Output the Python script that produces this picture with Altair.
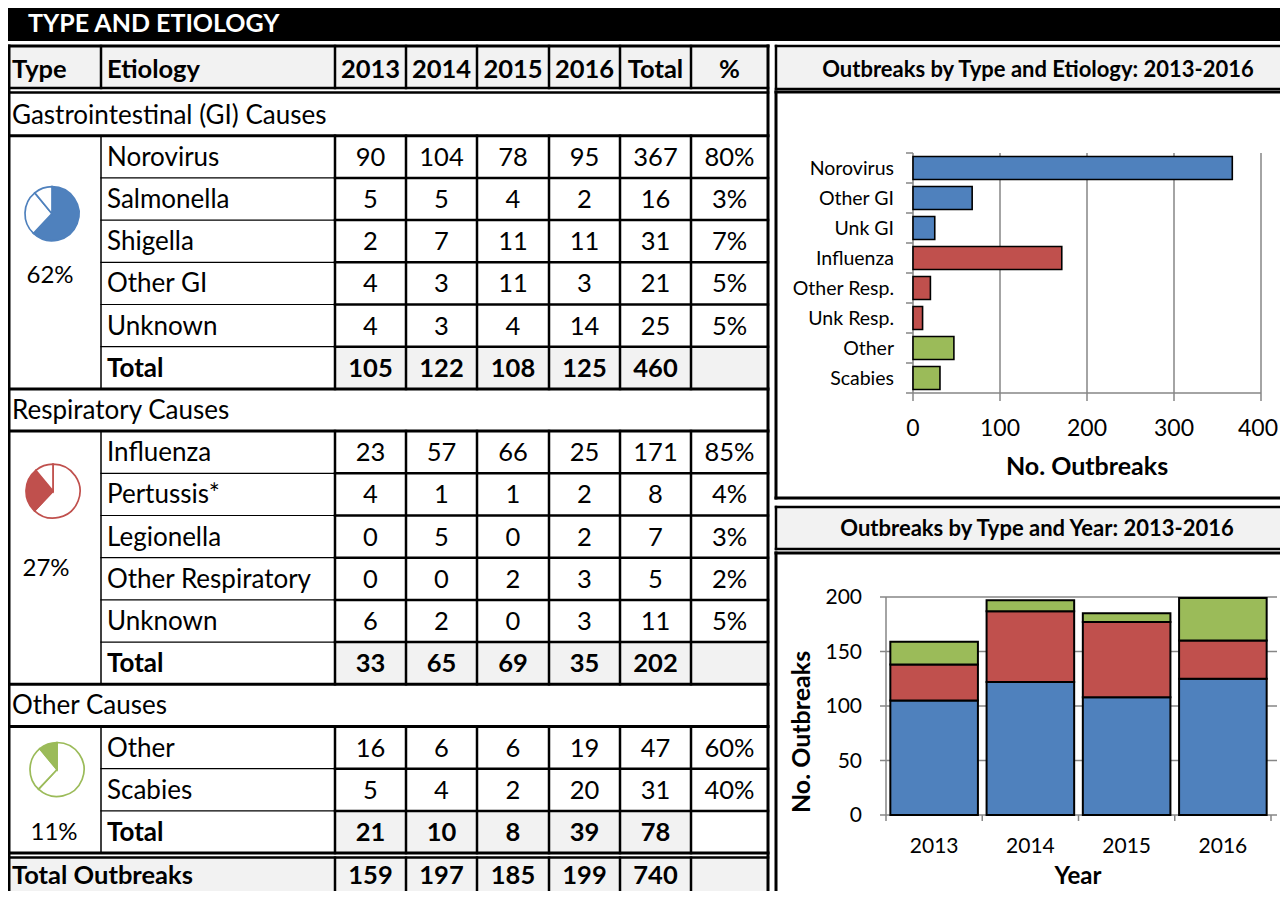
import altair as alt
import pandas as pd

# ---------------- data ----------------
years = ["2013", "2014", "2015", "2016"]
section_titles = ["Gastrointestinal (GI) Causes", "Respiratory Causes", "Other Causes"]
gi_names = ["Norovirus", "Salmonella", "Shigella", "Other GI", "Unknown"]
gi_counts = [[90, 104, 78, 95], [5, 5, 4, 2], [2, 7, 11, 11], [4, 3, 11, 3], [4, 3, 4, 14]]
gi_pct = ["80%", "3%", "7%", "5%", "5%"]
resp_names = ["Influenza", "Pertussis*", "Legionella", "Other Respiratory", "Unknown"]
resp_counts = [[23, 57, 66, 25], [4, 1, 1, 2], [0, 5, 0, 2], [0, 0, 2, 3], [6, 2, 0, 3]]
resp_pct = ["85%", "4%", "3%", "2%", "5%"]
oth_names = ["Other", "Scabies"]
oth_counts = [[16, 6, 6, 19], [5, 4, 2, 20]]
oth_pct = ["60%", "40%"]
type_names = ["GI", "Respiratory", "Other"]
type_share = [62, 27, 11]
type_share_labels = ["62%", "27%", "11%"]
type_colors = ["#4f81bd", "#c0504d", "#9bbb59"]

etio_bars = ["Norovirus", "Other GI", "Unk GI", "Influenza", "Other Resp.", "Unk Resp.", "Other", "Scabies"]
etio_bar_values = [367, 68, 25, 171, 20, 11, 47, 31]
etio_bar_type = ["GI", "GI", "GI", "Respiratory", "Respiratory", "Respiratory", "Other", "Other"]
axis1_ticks = [0, 100, 200, 300, 400]
axis2_ticks = [0, 50, 100, 150, 200]

# ---------------- layout (pixels of the reference) ----------------
FONT = "Lato"
OFF = 8
W, H = 1272, 883
GRAY = "#f2f2f2"
AXGRAY = "#868686"
FS_NAME = 26
FS_NUM = 25.5
FS_HEAD = 25.5


def p(v):
    return v - OFF


col_edges = [6, 101, 335, 406, 477, 549, 620, 691, 768]
col_centers = [(col_edges[i] + col_edges[i + 1]) / 2 for i in range(len(col_edges) - 1)]
ROW0 = 93.5
PITCH = 42.2

sections = [
    (section_titles[0], gi_names, gi_counts, gi_pct),
    (section_titles[1], resp_names, resp_counts, resp_pct),
    (section_titles[2], oth_names, oth_counts, oth_pct),
]

texts = []
rects = []
lines = []


def T(x, y, t, s=24, c="black", a="center", w="normal"):
    texts.append(dict(x=p(x), y=p(y), t=str(t), s=s, c=c, a=a, w=w))


def R(x1, x2, y1, y2, fill):
    rects.append(dict(x1=p(x1), x2=p(x2), y1=p(y1), y2=p(y2), fill=fill))


def L(x1, x2, y1, y2, w, c="black"):
    lines.append(dict(x1=p(x1), x2=p(x2), y1=p(y1), y2=p(y2), w=w, c=c))


# title bar
R(0, 1300, 0, 41, "black")
T(28, 24, "TYPE AND ETIOLOGY", 25, "white", "left", "bold")

# header row
R(6, 768, 46, 88, GRAY)
T(12, 70, "Type", FS_HEAD, a="left", w="bold")
T(107, 70, "Etiology", FS_HEAD, a="left", w="bold")
for j, yname in enumerate(years):
    T(col_centers[2 + j], 70, yname, FS_HEAD, w="bold")
T(col_centers[6], 70, "Total", FS_HEAD, w="bold")
T(col_centers[7], 70, "%", FS_HEAD, w="bold")
for xe in col_edges[1:-1]:
    L(xe, xe, 46, 88, 2.5)
L(6, 768, 46, 46, 3)
L(6, 768, 88, 88, 2.5)
L(6, 768, 92.5, 92.5, 2.5)

# pie centre / share label offsets from the first data row of each section
pie_offsets = [(52, 78), (53, 60), (57, 43)]
pie_label_offsets = [(50, 140), (46, 138), (54, None)]

pie_centers = []
row = 0
for si, (title, names, counts, pcts) in enumerate(sections):
    top = ROW0 + row * PITCH
    T(12, top + PITCH / 2 + 1, title, FS_NAME, a="left")
    L(6, 768, top + PITCH, top + PITCH, 3)
    row += 1
    data_top = ROW0 + row * PITCH
    pie_centers.append((pie_offsets[si][0], data_top + pie_offsets[si][1]))
    year_tot = [0, 0, 0, 0]
    for k, name in enumerate(names):
        y0 = ROW0 + row * PITCH
        yc = y0 + PITCH / 2 + 1
        T(107, yc, name, FS_NAME, a="left")
        for j in range(4):
            T(col_centers[2 + j], yc, counts[k][j], FS_NUM)
            year_tot[j] += counts[k][j]
        T(col_centers[6], yc, sum(counts[k]), FS_NUM)
        T(col_centers[7], yc, pcts[k], FS_NUM)
        L(101, 335, y0 + PITCH, y0 + PITCH, 1.2)
        L(335, 768, y0 + PITCH, y0 + PITCH, 2.5)
        row += 1
    y0 = ROW0 + row * PITCH
    yc = y0 + PITCH / 2 + 1
    R(335, 691 if si == 2 else 768, y0, y0 + PITCH, GRAY)
    T(107, yc, "Total", FS_NAME, a="left", w="bold")
    for j in range(4):
        T(col_centers[2 + j], yc, year_tot[j], FS_NUM, w="bold")
    T(col_centers[6], yc, sum(year_tot), FS_NUM, w="bold")
    row += 1
    bot = ROW0 + row * PITCH
    L(6, 768, bot, bot, 3)
    L(101, 101, data_top, bot, 1.5)
    for xe in col_edges[2:-1]:
        L(xe, xe, data_top, bot, 2.5)
    lx, ly = pie_label_offsets[si]
    T(lx, yc if ly is None else data_top + ly, type_share_labels[si], 24)

# grand total row
GRAND_TOP = ROW0 + row * PITCH + 4.5
GRAND_BOT = 905
grand_year = [sum(sum(r[j] for r in s[2]) for s in sections) for j in range(4)]
R(6, 768, GRAND_TOP, GRAND_BOT, GRAY)
L(6, 768, GRAND_TOP, GRAND_TOP, 2.5)
gy = GRAND_TOP + 18
T(12, gy, "Total Outbreaks", FS_HEAD, a="left", w="bold")
for j in range(4):
    T(col_centers[2 + j], gy, grand_year[j], FS_NUM, w="bold")
T(col_centers[6], gy, sum(grand_year), FS_NUM, w="bold")
for xe in col_edges[2:-1]:
    L(xe, xe, GRAND_TOP, GRAND_BOT, 2.5)
L(9, 9, 46, 905, 3)
L(768, 768, 46, 905, 3)

# right panels
R(776, 1300, 46, 89, GRAY)
R(776, 1300, 92, 498, "white")
R(776, 1300, 507, 549, GRAY)
R(776, 1300, 553, 905, "white")
for (a, b, wdt) in [(46, 89, 2.5), (92, 498, 3), (507, 549, 2.5), (553, 905, 3)]:
    L(776, 1300, a, a, wdt)
    L(776, 1300, b, b, wdt)
    L(776, 776, a, b, wdt)
T(1038, 70, "Outbreaks by Type and Etiology: 2013-2016", 22, w="bold")
T(1037, 529, "Outbreaks by Type and Year: 2013-2016", 22, w="bold")
T(1087, 467, "No. Outbreaks", 25, w="bold")
T(1078, 877, "Year", 24, w="bold")

text_df = pd.DataFrame(texts)
rect_df = pd.DataFrame(rects)
line_df = pd.DataFrame(lines)

PX = dict(scale=None, axis=None)

layers = []
layers.append(
    alt.Chart(rect_df).mark_rect().encode(
        x=alt.X("x1:Q", **PX), x2="x2:Q",
        y=alt.Y("y1:Q", **PX), y2="y2:Q",
        fill=alt.Fill("fill:N", scale=None),
    )
)

# ---------------- bar chart 1 ----------------
color_of = dict(zip(type_names, type_colors))
bar1_df = pd.DataFrame({"etiology": etio_bars, "count": etio_bar_values, "type": etio_bar_type})
bar1_df["fill"] = bar1_df["type"].map(color_of)
X1 = alt.Scale(domain=[0, 400], range=[p(913), p(1261)], nice=False)
Y1 = alt.Scale(domain=etio_bars, range=[p(153), p(393)], paddingInner=0.23, paddingOuter=0.115)
SLOT1 = alt.Scale(domain=[0, len(etio_bars)], range=[p(153), p(393)], nice=False)

tick1_df = pd.DataFrame({"v": axis1_ticks})
layers.append(
    alt.Chart(tick1_df[tick1_df.v > 0]).mark_rule(color=AXGRAY, strokeWidth=1.5).encode(
        x=alt.X("v:Q", scale=X1, axis=None), y=alt.value(p(153)), y2=alt.value(p(401)))
)
layers.append(
    alt.Chart(pd.DataFrame({"a": [0], "b": [400]})).mark_rule(color=AXGRAY, strokeWidth=1.5).encode(
        x=alt.X("a:Q", scale=X1, axis=None), x2="b:Q", y=alt.value(p(393)))
)
layers.append(
    alt.Chart(pd.DataFrame({"a": [0]})).mark_rule(color=AXGRAY, strokeWidth=1.5).encode(
        x=alt.X("a:Q", scale=X1, axis=None), y=alt.value(p(153)), y2=alt.value(p(401)))
)
layers.append(
    alt.Chart(pd.DataFrame({"k": list(range(len(etio_bars) + 1))})).mark_rule(color=AXGRAY, strokeWidth=1.5).encode(
        y=alt.Y("k:Q", scale=SLOT1, axis=None), x=alt.value(p(906)), x2=alt.value(p(913)))
)
layers.append(
    alt.Chart(bar1_df).mark_bar(stroke="black", strokeWidth=1.6).encode(
        x=alt.X("count:Q", scale=X1, axis=None),
        y=alt.Y("etiology:N", scale=Y1, axis=None),
        fill=alt.Fill("fill:N", scale=None),
    )
)
layers.append(
    alt.Chart(bar1_df).mark_text(align="right", baseline="middle", font=FONT, fontSize=19.5, dy=1).encode(
        y=alt.Y("etiology:N", scale=Y1, axis=None), x=alt.value(p(894)), text="etiology:N")
)
layers.append(
    alt.Chart(tick1_df[tick1_df.v < 400]).mark_text(align="center", baseline="middle", font=FONT, fontSize=23).encode(
        x=alt.X("v:Q", scale=X1, axis=None), y=alt.value(p(429)), text="v:Q")
)
layers.append(
    alt.Chart(tick1_df[tick1_df.v == 400]).mark_text(align="center", baseline="middle", font=FONT, fontSize=23, dx=-3).encode(
        x=alt.X("v:Q", scale=X1, axis=None), y=alt.value(p(429)), text="v:Q")
)

# ---------------- bar chart 2 ----------------
stack_rows = []
for ti, (title, names, counts, pcts) in enumerate(sections):
    for j, yname in enumerate(years):
        stack_rows.append({"year": yname, "type": type_names[ti], "ord": ti,
                           "count": sum(r[j] for r in counts), "fill": type_colors[ti]})
bar2_df = pd.DataFrame(stack_rows)
X2 = alt.Scale(domain=years, range=[p(886), p(1271)], paddingInner=0.09, paddingOuter=0.045)
Y2 = alt.Scale(domain=[0, 200], range=[p(815), p(597)], nice=False)
SLOT2 = alt.Scale(domain=[0, len(years)], range=[p(886), p(1271)], nice=False)
tick2_df = pd.DataFrame({"v": axis2_ticks})

layers.append(
    alt.Chart(tick2_df).mark_rule(color=AXGRAY, strokeWidth=1.5).encode(
        y=alt.Y("v:Q", scale=Y2, axis=None), x=alt.value(p(880)), x2=alt.value(p(1277)))
)
layers.append(
    alt.Chart(pd.DataFrame({"a": [0], "b": [200]})).mark_rule(color=AXGRAY, strokeWidth=1.5).encode(
        y=alt.Y("a:Q", scale=Y2, axis=None), y2="b:Q", x=alt.value(p(886)))
)
layers.append(
    alt.Chart(pd.DataFrame({"k": list(range(len(years) + 1))})).mark_rule(color=AXGRAY, strokeWidth=1.5).encode(
        x=alt.X("k:Q", scale=SLOT2, axis=None), y=alt.value(p(815)), y2=alt.value(p(821)))
)
layers.append(
    alt.Chart(bar2_df).mark_bar(stroke="black", strokeWidth=2).encode(
        x=alt.X("year:N", scale=X2, axis=None),
        y=alt.Y("count:Q", scale=Y2, axis=None, stack="zero"),
        fill=alt.Fill("fill:N", scale=None),
        order=alt.Order("ord:Q"),
    )
)
layers.append(
    alt.Chart(pd.DataFrame({"year": years})).mark_text(align="center", baseline="middle", font=FONT, fontSize=21).encode(
        x=alt.X("year:N", scale=X2, axis=None), y=alt.value(p(847)), text="year:N")
)
layers.append(
    alt.Chart(tick2_df).mark_text(align="right", baseline="middle", font=FONT, fontSize=21, dy=1).encode(
        y=alt.Y("v:Q", scale=Y2, axis=None), x=alt.value(p(862)), text="v:Q")
)
layers.append(
    alt.Chart(pd.DataFrame({"t": ["No. Outbreaks"]})).mark_text(
        align="center", baseline="middle", font=FONT, fontSize=25, fontWeight="bold", angle=270).encode(
        x=alt.value(p(802)), y=alt.value(p(732)), text="t:N")
)

# ---------------- pies ----------------
for si in range(3):
    pie_df = pd.DataFrame({
        "type": type_names,
        "share": type_share,
        "ord": [0, 1, 2],
        "fill": [type_colors[si] if i == si else "white" for i in range(3)],
        "cx": [p(pie_centers[si][0])] * 3,
        "cy": [p(pie_centers[si][1])] * 3,
    })
    layers.append(
        alt.Chart(pie_df).mark_arc(radius=27, stroke=type_colors[si], strokeWidth=1.7).encode(
            theta=alt.Theta("share:Q", stack=True, scale=alt.Scale(domain=[0, 100], range=[0, 6.283185307])),
            order=alt.Order("ord:Q"),
            x=alt.X("cx:Q", **PX), y=alt.Y("cy:Q", **PX),
            fill=alt.Fill("fill:N", scale=None),
        )
    )

# ---------------- table lines and texts ----------------
layers.append(
    alt.Chart(line_df).mark_rule(strokeCap="square").encode(
        x=alt.X("x1:Q", **PX), x2="x2:Q",
        y=alt.Y("y1:Q", **PX), y2="y2:Q",
        stroke=alt.Stroke("c:N", scale=None),
        strokeWidth=alt.StrokeWidth("w:Q", scale=None),
    )
)
for a in ["left", "center", "right"]:
    for wgt in ["normal", "bold"]:
        sub = text_df[(text_df.a == a) & (text_df.w == wgt)]
        if len(sub) == 0:
            continue
        layers.append(
            alt.Chart(sub).mark_text(align=a, baseline="middle", font=FONT, fontWeight=wgt).encode(
                x=alt.X("x:Q", **PX), y=alt.Y("y:Q", **PX),
                text="t:N",
                size=alt.Size("s:Q", scale=None),
                color=alt.Color("c:N", scale=None),
            )
        )

chart = alt.layer(*layers).resolve_scale(
    x="independent", y="independent", theta="independent"
).properties(
    width=W, height=H, padding=0, autosize=alt.AutoSizeParams(type="none")
).configure_view(strokeWidth=0)

chart.save("out.html", embed_options={"renderer": "svg", "actions": False})
